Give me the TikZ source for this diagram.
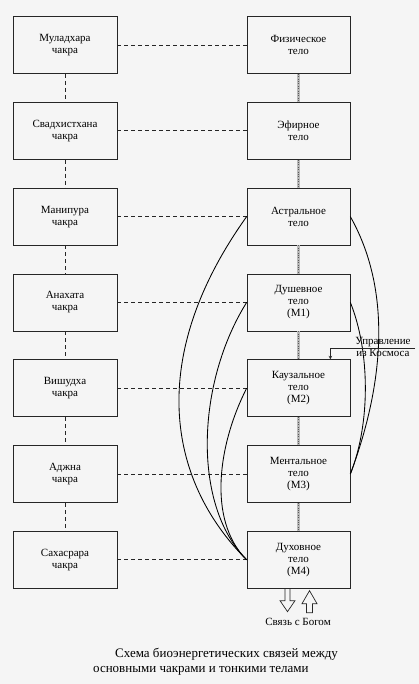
\documentclass[tikz,border=0pt]{standalone}
\usepackage{fontspec}
\setmainfont{Liberation Serif}
\definecolor{InkGray}{HTML}{262626}
\definecolor{PaperGray}{HTML}{F5F5F5}

\begin{document}
\begin{tikzpicture}[x=1pt, y=1pt, >=stealth,
    box/.style={draw=InkGray, line width=0.7pt, minimum width=104, minimum height=57,
      align=center, font=\fontsize{11}{12}\selectfont},
    link/.style={draw=InkGray, line width=0.9pt, dash pattern=on 4pt off 3pt},
    tether/.style={draw=gray!55, line width=3.8pt,
      postaction={draw=black!65, line width=1.2pt, dash pattern=on 0.8pt off 1.6pt}},
    flow/.style={draw=black, line width=0.85pt}]
  \fill[PaperGray] (0,0) rectangle (419,-684);
  \useasboundingbox (0,0) rectangle (419,-684);

  \node[box] (muladhara) at (65,-45) {Муладхара\\чакра};
  \node[box] (svadhi) at (65,-130.8) {Свадхистхана\\чакра};
  \node[box] (manipura) at (65,-216.6) {Манипура\\чакра};
  \node[box] (anahata) at (65,-302.4) {Анахата\\чакра};
  \node[box] (vishudha) at (65,-388.2) {Вишудха\\чакра};
  \node[box] (ajna) at (65,-474) {Аджна\\чакра};
  \node[box] (sahasrara) at (65,-559.8) {Сахасрара\\чакра};

  \node[box, minimum width=103] (fiz) at (298.5,-45) {Физическое\\тело};
  \node[box, minimum width=103] (efir) at (298.5,-130.8) {Эфирное\\тело};
  \node[box, minimum width=103] (astral) at (298.5,-216.6) {Астральное\\тело};
  \node[box, minimum width=103] (dushev) at (298.5,-302.4) {Душевное\\тело\\(M1)};
  \node[box, minimum width=103] (kauzal) at (298.5,-388.2) {Каузальное\\тело\\(M2)};
  \node[box, minimum width=103] (mental) at (298.5,-474) {Ментальное\\тело\\(M3)};
  \node[box, minimum width=103] (dukh) at (298.5,-559.8) {Духовное\\тело\\(M4)};

  \draw[link] (muladhara) -- (svadhi);
  \draw[link] (svadhi) -- (manipura);
  \draw[link] (manipura) -- (anahata);
  \draw[link] (anahata) -- (vishudha);
  \draw[link] (vishudha) -- (ajna);
  \draw[link] (ajna) -- (sahasrara);

  \draw[link] (muladhara) -- (fiz);
  \draw[link] (svadhi) -- (efir);
  \draw[link] (manipura) -- (astral);
  \draw[link] (anahata) -- (dushev);
  \draw[link] (vishudha) -- (kauzal);
  \draw[link] (ajna) -- (mental);
  \draw[link] (sahasrara) -- (dukh);

  \draw[tether] (fiz) -- (efir);
  \draw[tether] (efir) -- (astral);
  \draw[tether] (astral) -- (dushev);
  \draw[tether] (dushev) -- (kauzal);
  \draw[tether] (kauzal) -- (mental);
  \draw[tether] (mental) -- (dukh);

  \draw[flow] (astral.west) .. controls +(-100,-140) and +(-80,80) .. (dukh.west);
  \draw[flow] (dushev.west) .. controls +(-50,-80) and +(-55,55) .. (dukh.west);
  \draw[flow] (kauzal.west) .. controls +(-28,-55) and +(-40,40) .. (dukh.west);
  \draw[flow] (astral.east) .. controls +(45,-80) and +(30,80) .. (mental.east);
  \draw[flow] (dushev.east) .. controls +(20,-50) and +(20,50) .. (mental.east);

  \coordinate (cosmos) at (415,-348);
  \draw[->, InkGray, line width=0.6pt] (cosmos) -| ([xshift=-20]kauzal.north east);
  \node[above, inner sep=1pt, font=\fontsize{11}{12}\selectfont] (ctrlup) at (383,-348) {Управление};
  \node[below, inner sep=1pt, font=\fontsize{11}{12}\selectfont] (ctrldown) at (383,-348) {из Космоса};

  \draw[InkGray, line width=0.7pt] ([xshift=-13.5]dukh.south) -- ++(0,-12) -- ++(-5,0)
    -- ++(7.5,-11) -- ++(7.5,11) -- ++(-5,0) -- ++(0,12);
  \draw[InkGray, line width=0.7pt] ([shift={(11,-2)}]dukh.south) -- ++(7.5,-13) -- ++(-4.5,0)
    -- ++(0,-9) -- ++(-6,0) -- ++(0,9) -- ++(-4.5,0) -- cycle;
  \node[font=\fontsize{11}{12}\selectfont] (godlink) at (298,-622) {Связь с Богом};

  \node[anchor=north west, align=left, inner sep=0pt, font=\fontsize{13}{15}\selectfont] (caption)
    at (93,-648) {\hspace*{22pt}Схема биоэнергетических связей между\\основными чакрами и тонкими телами};
\end{tikzpicture}
\end{document}
